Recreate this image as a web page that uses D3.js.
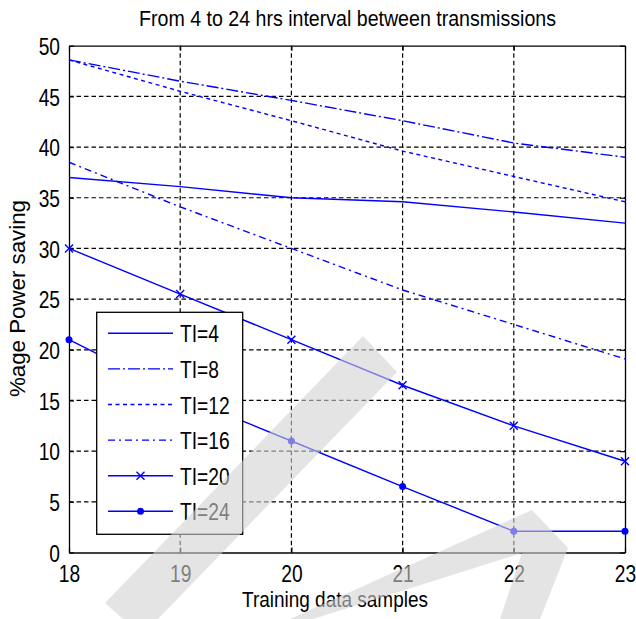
<!DOCTYPE html>
<html>
<head>
<meta charset="utf-8">
<script src="https://cdn.jsdelivr.net/npm/d3@7"></script>
<style>
  body { margin: 0; background: #ffffff; }
  svg text { font-family: "Liberation Sans", Arial, sans-serif; fill: #000000; }
</style>
</head>
<body>
<div id="chart"></div>
<script>
// ---- data ----
const X_VALUES = [18, 19, 20, 21, 22, 23];
const SERIES_NAMES = ["TI=4", "TI=8", "TI=12", "TI=16", "TI=20", "TI=24"];
const TI4  = [37.0, 36.1, 35.0, 34.6, 33.6, 32.5];
const TI8  = [48.6, 46.5, 44.6, 42.6, 40.4, 39.0];
const TI12 = [48.6, 45.5, 42.6, 39.6, 37.1, 34.6];
const TI16 = [38.5, 34.1, 30.0, 25.9, 22.5, 19.1];
const TI20 = [30.0, 25.5, 21.0, 16.5, 12.5, 9.0];
const TI24 = [21.0, 15.5, 11.0, 6.5, 2.1, 2.1];
const SERIES_VALUES = [TI4, TI8, TI12, TI16, TI20, TI24];
const X_TICKS = [18, 19, 20, 21, 22, 23];
const Y_TICKS = [0, 5, 10, 15, 20, 25, 30, 35, 40, 45, 50];

const TITLE = "From 4 to 24 hrs interval between transmissions";
const X_LABEL = "Training data samples";
const Y_LABEL = "%age Power saving";

// ---- layout / style ----
const SVG_WIDTH = 636;
const SVG_HEIGHT = 619;
const X_LEFT = 69, X_RIGHT = 625, Y_TOP = 45.7, Y_BOTTOM = 552.5;
const LINE_COLOR = "#0000ff";
const DASHES = [null, "12,3,2,3", "4,3.5", "7,4,2,4", null, null];
const MARKERS = [null, null, null, null, "x", "dot"];
const NARROW = 0.8; // the original font is a condensed one

const svg = d3.select("#chart")
  .append("svg")
  .attr("width", SVG_WIDTH)
  .attr("height", SVG_HEIGHT);

const xScale = d3.scaleLinear().domain([18, 23]).range([X_LEFT, X_RIGHT]);
const yScale = d3.scaleLinear().domain([0, 50]).range([Y_BOTTOM, Y_TOP]);

function narrow(sel) {
  sel.each(function() {
    const w = this.getComputedTextLength();
    d3.select(this)
      .attr("textLength", w * NARROW)
      .attr("lengthAdjust", "spacingAndGlyphs");
  });
}

// grid
const grid = svg.append("g").attr("class", "grid");
grid.selectAll(".vgrid")
  .data(X_TICKS.slice(1, -1))
  .enter().append("line")
  .attr("x1", d => xScale(d)).attr("x2", d => xScale(d))
  .attr("y1", Y_TOP).attr("y2", Y_BOTTOM)
  .attr("stroke", "#000").attr("stroke-width", 1.2)
  .attr("stroke-dasharray", "4.5,3");
grid.selectAll(".hgrid")
  .data(Y_TICKS.slice(1, -1))
  .enter().append("line")
  .attr("x1", X_LEFT).attr("x2", X_RIGHT)
  .attr("y1", d => yScale(d)).attr("y2", d => yScale(d))
  .attr("stroke", "#000").attr("stroke-width", 1.2)
  .attr("stroke-dasharray", "4.5,3");

// axes (MATLAB style box with inward ticks)
function styleAxis(g) {
  g.select(".domain").attr("stroke", "#000").attr("stroke-width", 1.3);
  g.selectAll(".tick line").attr("stroke", "#000").attr("stroke-width", 1.2);
}
const xAxis = svg.append("g")
  .attr("transform", `translate(0, ${Y_BOTTOM})`)
  .call(d3.axisBottom(xScale).tickValues(X_TICKS).tickFormat(d3.format("d"))
    .tickSizeInner(-5).tickSizeOuter(0));
xAxis.selectAll("text").attr("font-size", 24).attr("dy", 0).attr("y", 29.5).call(narrow);
styleAxis(xAxis);

const yAxis = svg.append("g")
  .attr("transform", `translate(${X_LEFT}, 0)`)
  .call(d3.axisLeft(yScale).tickValues(Y_TICKS).tickFormat(d3.format("d"))
    .tickSizeInner(-5).tickSizeOuter(0).tickPadding(9));
yAxis.selectAll("text").attr("font-size", 24).attr("dy", "0.36em").call(narrow);
styleAxis(yAxis);

const topAxis = svg.append("g")
  .attr("transform", `translate(0, ${Y_TOP})`)
  .call(d3.axisTop(xScale).tickValues(X_TICKS).tickSizeInner(-5).tickSizeOuter(0).tickFormat(""));
styleAxis(topAxis);
const rightAxis = svg.append("g")
  .attr("transform", `translate(${X_RIGHT}, 0)`)
  .call(d3.axisRight(yScale).tickValues(Y_TICKS).tickSizeInner(-5).tickSizeOuter(0).tickFormat(""));
styleAxis(rightAxis);

// series
const line = d3.line()
  .x((d, i) => xScale(X_VALUES[i]))
  .y(d => yScale(d));

function drawMarkers(g, pts, type) {
  if (type === "x") {
    pts.forEach(([px, py]) => {
      g.append("path")
        .attr("d", `M${px - 4},${py - 4}L${px + 4},${py + 4}M${px - 4},${py + 4}L${px + 4},${py - 4}`)
        .attr("stroke", LINE_COLOR).attr("stroke-width", 1.4);
    });
  } else if (type === "dot") {
    pts.forEach(([px, py]) => {
      g.append("circle").attr("cx", px).attr("cy", py).attr("r", 3.5).attr("fill", LINE_COLOR);
    });
  }
}

const plot = svg.append("g").attr("class", "plot");
SERIES_VALUES.forEach((vals, k) => {
  plot.append("path")
    .datum(vals)
    .attr("fill", "none")
    .attr("stroke", LINE_COLOR)
    .attr("stroke-width", 1.4)
    .attr("stroke-dasharray", DASHES[k])
    .attr("d", line);
  drawMarkers(plot, vals.map((v, i) => [xScale(X_VALUES[i]), yScale(v)]), MARKERS[k]);
});

// legend
const LEG_X = 96.7, LEG_Y = 312.3, LEG_W = 146, LEG_H = 222;
const legend = svg.append("g").attr("class", "legend");
legend.append("rect")
  .attr("x", LEG_X).attr("y", LEG_Y).attr("width", LEG_W).attr("height", LEG_H)
  .attr("fill", "#fff").attr("stroke", "#000").attr("stroke-width", 1.3);
SERIES_NAMES.forEach((name, k) => {
  const cy = LEG_Y + 21 + k * 35.6;
  legend.append("line")
    .attr("x1", 108).attr("x2", 173).attr("y1", cy).attr("y2", cy)
    .attr("stroke", LINE_COLOR).attr("stroke-width", 1.4)
    .attr("stroke-dasharray", DASHES[k]);
  drawMarkers(legend, [[140.5, cy]], MARKERS[k]);
  legend.append("text")
    .attr("x", 180).attr("y", cy + 9)
    .attr("font-size", 24)
    .text(name)
    .call(narrow);
});

// labels
svg.append("text")
  .attr("x", 347.5).attr("y", 26)
  .attr("text-anchor", "middle")
  .attr("font-size", 22)
  .attr("textLength", 417).attr("lengthAdjust", "spacingAndGlyphs")
  .text(TITLE);
svg.append("text")
  .attr("x", 335).attr("y", 607)
  .attr("text-anchor", "middle")
  .attr("font-size", 22)
  .attr("textLength", 186).attr("lengthAdjust", "spacingAndGlyphs")
  .text(X_LABEL);
svg.append("text")
  .attr("transform", "rotate(-90)")
  .attr("x", -298.5).attr("y", 25)
  .attr("text-anchor", "middle")
  .attr("font-size", 22)
  .attr("textLength", 197).attr("lengthAdjust", "spacingAndGlyphs")
  .text(Y_LABEL);

// faint watermark overlay
const wm = svg.append("g").attr("fill", "#d2d2d2").attr("fill-opacity", 0.6);
wm.append("polygon").attr("points", "105,603 363,336 397,372 158,619 123,619");
wm.append("polygon").attr("points", "290,619 532,510 568,548 540,619 500,619 522,553 313,619");
</script>
</body>
</html>
